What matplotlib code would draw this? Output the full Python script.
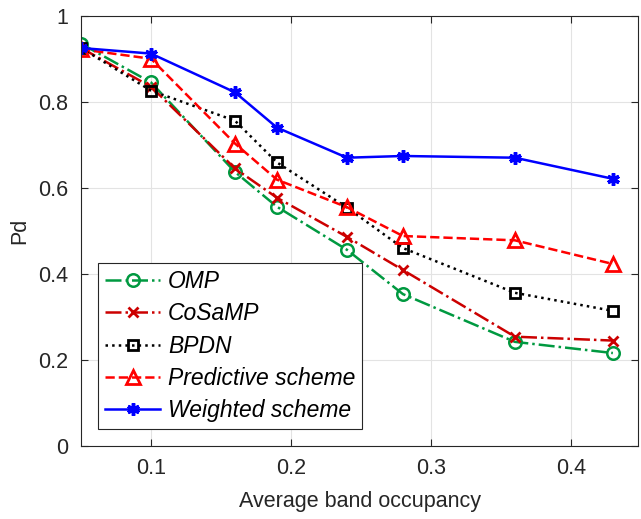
import matplotlib
matplotlib.use('Agg')
import matplotlib.pyplot as plt
from matplotlib.ticker import FuncFormatter

plt.rcParams['font.family'] = ['Liberation Sans', 'DejaVu Sans']

occupancy = [0.05, 0.10, 0.16, 0.19, 0.24, 0.28, 0.36, 0.43]
pd_omp = [0.935, 0.845, 0.637, 0.556, 0.456, 0.353, 0.242, 0.216]
pd_cosamp = [0.925, 0.835, 0.645, 0.577, 0.486, 0.409, 0.254, 0.245]
pd_bpdn = [0.925, 0.826, 0.756, 0.659, 0.554, 0.460, 0.356, 0.314]
pd_predictive = [0.922, 0.900, 0.703, 0.619, 0.555, 0.488, 0.478, 0.423]
pd_weighted = [0.925, 0.912, 0.822, 0.740, 0.670, 0.674, 0.670, 0.621]

fig = plt.figure(figsize=(6.41, 5.19), dpi=100)
ax = fig.add_axes([0.1264, 0.1407, 0.869, 0.829])

lw = 1.8
ax.plot(occupancy, pd_omp, linestyle='-.', color='#009940', lw=lw,
        marker='o', ms=9, mfc='none', mew=1.8, label='OMP')
ax.plot(occupancy, pd_cosamp, linestyle='-.', color='#cc0000', lw=lw,
        marker='x', ms=7, mew=2, label='CoSaMP')
ax.plot(occupancy, pd_bpdn, linestyle=':', color='black', lw=lw,
        marker='s', ms=7, mfc='none', mew=2, label='BPDN')
ax.plot(occupancy, pd_predictive, linestyle='--', color='#ff0000', lw=lw,
        marker='^', ms=10, mfc='none', mew=2, label='Predictive scheme')
ax.plot(occupancy, pd_weighted, linestyle='-', color='#0000ff', lw=lw,
        marker=(6, 2, 0), ms=9, mew=2.5, label='Weighted scheme')

ax.set_xlim(0.05, 0.448)
ax.set_ylim(0, 1)
ax.set_xticks([0.1, 0.2, 0.3, 0.4])
ax.set_yticks([0, 0.2, 0.4, 0.6, 0.8, 1.0])
ax.yaxis.set_major_formatter(FuncFormatter(lambda v, p: '%g' % v))
ax.xaxis.set_major_formatter(FuncFormatter(lambda v, p: '%g' % v))
ax.tick_params(direction='in', top=True, right=True, labelsize=15.5,
               colors='#262626', length=5, pad=9)
ax.grid(True, color='#e3e3e3', lw=0.8)
ax.set_axisbelow(True)
for s in ax.spines.values():
    s.set_color('#262626')
    s.set_linewidth(0.8)

ax.set_xlabel('Average band occupancy', fontsize=15.5, color='#262626', labelpad=8)
ax.set_ylabel('Pd', fontsize=15.5, color='#262626', labelpad=6)

leg = ax.legend(loc='lower left', bbox_to_anchor=(0.031, 0.04),
                prop={'size': 16.5, 'style': 'italic'}, fancybox=False,
                framealpha=1, edgecolor='#262626', handlelength=2.4,
                borderpad=0.3, labelspacing=0.4, handletextpad=0.35,
                borderaxespad=0)
leg.get_frame().set_linewidth(0.8)

fig.savefig('out.png', dpi=100)
